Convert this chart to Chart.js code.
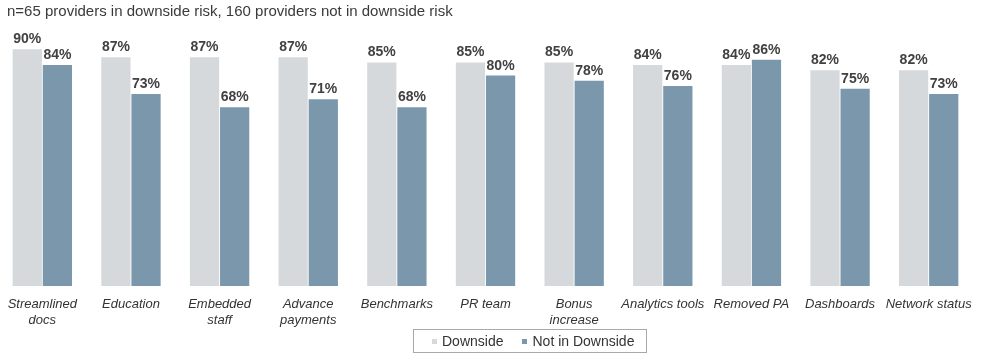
<!DOCTYPE html>
<html>
<head>
<meta charset="utf-8">
<script src="https://cdn.jsdelivr.net/npm/chart.js@4.4.0/dist/chart.umd.min.js"></script>
<style>
  body { margin: 0; background: #fff; }
  #wrap { position: relative; width: 995px; height: 360px; overflow: hidden; }
  #myChart { position: absolute; left: -2px; top: 0; }
  #legend {
    position: absolute; left: 413px; top: 329px; width: 234px; height: 24px;
    box-sizing: border-box; border: 1px solid #a9a9a9;
    font: 14px "Liberation Sans", Arial, sans-serif; color: #333;
    display: flex; align-items: center; padding-left: 18px; white-space: nowrap;
  }
  #legend .sw { display: inline-block; width: 5px; height: 5px; margin-right: 5px; flex: none; }
  #legend .item { display: flex; align-items: center; margin-right: 19px; flex: none; }
</style>
</head>
<body>
<div id="wrap">
  <canvas id="myChart" width="995" height="360"></canvas>
  <div id="legend"></div>
</div>
<script>
// data
let categories = [
  ['Streamlined', 'docs'], 'Education', ['Embedded', 'staff'], ['Advance', 'payments'],
  'Benchmarks', 'PR team', ['Bonus', 'increase'], 'Analytics tools', 'Removed PA',
  'Dashboards', 'Network status'
];
let downside = [90, 87, 87, 87, 85, 85, 85, 84, 84, 82, 82];
let notDownside = [84, 73, 68, 71, 68, 80, 78, 76, 86, 75, 73];
let seriesNames = ['Downside', 'Not in Downside'];
let seriesColors = ['#d6d9db', '#7b97ac'];
let titleText = 'n=65 providers in downside risk, 160 providers not in downside risk';

// title drawn by hand so it can sit a bit in from the left edge
const subTitle = {
  id: 'subTitle',
  afterDraw(chart) {
    let ctx = chart.ctx;
    ctx.save();
    ctx.font = '15px "Liberation Sans", Arial, sans-serif';
    ctx.fillStyle = '#3a3a3a';
    ctx.textAlign = 'left';
    ctx.textBaseline = 'middle';
    ctx.fillText(titleText, 9, 12);
    ctx.restore();
  }
};

// draws the % numbers over each bar
const barLabels = {
  id: 'barLabels',
  afterDatasetsDraw(chart) {
    let ctx = chart.ctx;
    ctx.save();
    ctx.font = 'bold 14px "Liberation Sans", Arial, sans-serif';
    ctx.fillStyle = '#414141';
    ctx.textAlign = 'center';
    ctx.textBaseline = 'alphabetic';
    chart.data.datasets.forEach((ds, i) => {
      chart.getDatasetMeta(i).data.forEach((bar, j) => {
        ctx.fillText(ds.data[j] + '%', bar.x, bar.y - 6);
      });
    });
    ctx.restore();
  }
};

let canvasChart = document.getElementById('myChart');
const myChart = new Chart(canvasChart, {
  type: 'bar',
  data: {
    labels: categories,
    datasets: [{
      label: seriesNames[0],
      data: downside,
      backgroundColor: seriesColors[0],
      categoryPercentage: 0.68,
      barPercentage: 0.97
    }, {
      label: seriesNames[1],
      data: notDownside,
      backgroundColor: seriesColors[1],
      categoryPercentage: 0.68,
      barPercentage: 0.97
    }]
  },
  options: {
    responsive: false,
    animation: false,
    layout: { padding: { left: 0, right: 20, top: 23, bottom: 30 } },
    scales: {
      x: {
        grid: { display: false },
        border: { display: false },
        ticks: {
          color: '#333',
          padding: 2,
          maxRotation: 0,
          autoSkip: false,
          font: { family: '"Liberation Sans", Arial, sans-serif', size: 13, style: 'italic', lineHeight: 1.23 }
        }
      },
      y: {
        display: false,
        min: 0,
        max: 100
      }
    },
    plugins: {
      title: { display: false },
      legend: { display: false },
      tooltip: { enabled: false }
    }
  },
  plugins: [barLabels, subTitle]
});

// legend as plain html under the chart, with the border box
let legendDiv = document.getElementById('legend');
seriesNames.forEach((name, i) => {
  let item = document.createElement('span');
  item.className = 'item';
  let sw = document.createElement('span');
  sw.className = 'sw';
  sw.style.background = seriesColors[i];
  item.appendChild(sw);
  item.appendChild(document.createTextNode(name));
  legendDiv.appendChild(item);
});
</script>
</body>
</html>
